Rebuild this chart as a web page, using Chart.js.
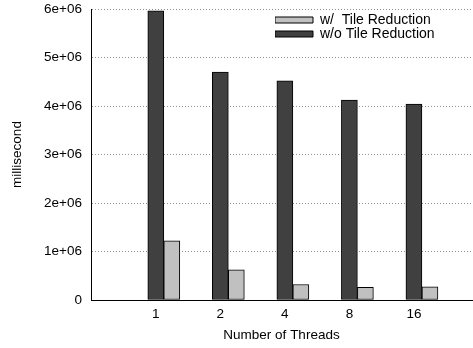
<!DOCTYPE html>
<html>
<head>
<meta charset="utf-8">
<script src="https://cdn.jsdelivr.net/npm/chart.js@4"></script>
<style>
  html, body { margin: 0; padding: 0; background: #fff; }
  #wrap { width: 473px; height: 348px; }
</style>
</head>
<body>
<div id="wrap"><canvas id="grafica" width="473" height="348"></canvas></div>
<script>
// valores
const threads = ['1', '2', '4', '8', '16'];
const withoutReduction = [5960000, 4700000, 4520000, 4120000, 4040000];
const withReduction = [1220000, 620000, 320000, 260000, 270000];
const yTickLabels = ['0', '1e+06', '2e+06', '3e+06', '4e+06', '5e+06', '6e+06'];

const fuente = { family: 'Liberation Sans, Arial, sans-serif', size: 13.5 };
const fuenteLeyenda = { family: 'Liberation Sans, Arial, sans-serif', size: 14 };

// mover la leyenda dentro del area del grafico (arriba a la derecha)
const moverLeyenda = {
    id: 'moverLeyenda',
    afterLayout(chart) {
        const lg = chart.legend;
        if (!lg) return;
        const w = lg.width, h = lg.height;
        lg.left = 275;
        lg.top = 13;
        lg.right = lg.left + w;
        lg.bottom = lg.top + h;
    }
};

const ctx = document.getElementById('grafica').getContext('2d');

new Chart(ctx, {
    type: 'bar',
    data: {
        datasets: [
            {
                label: 'w/o Tile Reduction',
                data: threads.map((t, i) => ({ x: i, y: withoutReduction[i] })),
                backgroundColor: '#404040',
                borderColor: '#000000',
                borderWidth: 1,
                borderSkipped: false,
                barThickness: 16
            },
            {
                label: 'w/  Tile Reduction',
                data: threads.map((t, i) => ({ x: i, y: withReduction[i] })),
                backgroundColor: '#c0c0c0',
                borderColor: '#000000',
                borderWidth: 1,
                borderSkipped: false,
                barThickness: 16
            }
        ]
    },
    options: {
        responsive: false,
        animation: false,
        events: [],
        layout: { padding: { top: 9, right: 1, bottom: 0, left: 0 } },
        plugins: {
            tooltip: { enabled: false },
            legend: {
                position: 'chartArea',
                align: 'start',
                reverse: true,
                labels: {
                    color: '#000',
                    font: fuenteLeyenda,
                    boxWidth: 38,
                    boxHeight: 6,
                    padding: 0
                }
            }
        },
        scales: {
            x: {
                type: 'linear',
                offset: false,
                min: -1.128,
                max: 4.776,
                grid: { display: false, drawTicks: false, offset: false },
                border: { display: true, color: '#000', width: 1 },
                ticks: {
                    stepSize: 1,
                    includeBounds: false,
                    autoSkip: false,
                    maxRotation: 0,
                    color: '#000',
                    font: fuente,
                    padding: 6,
                    labelOffset: -8,
                    callback: (v) => (threads[v] !== undefined ? threads[v] : '')
                },
                title: {
                    display: true,
                    text: 'Number of Threads',
                    color: '#000',
                    font: fuente,
                    padding: { top: 4, bottom: 5 }
                },
                afterFit(scale) { scale.height = 48; }
            },
            y: {
                min: 0,
                max: 6000000,
                grid: {
                    color: '#909090',
                    lineWidth: 1,
                    drawTicks: false
                },
                border: { display: true, color: '#000', width: 1, dash: [1, 2] },
                ticks: {
                    stepSize: 1000000,
                    color: '#000',
                    font: fuente,
                    padding: 9,
                    callback: (v, i) => yTickLabels[i]
                },
                title: {
                    display: true,
                    text: 'millisecond',
                    color: '#000',
                    font: fuente,
                    padding: { top: 9, bottom: 0 }
                },
                afterFit(scale) {
                    scale.width = 91;
                    scale.paddingTop = 0;
                    scale.paddingBottom = 0;
                }
            }
        }
    },
    plugins: [moverLeyenda]
});
</script>
</body>
</html>
